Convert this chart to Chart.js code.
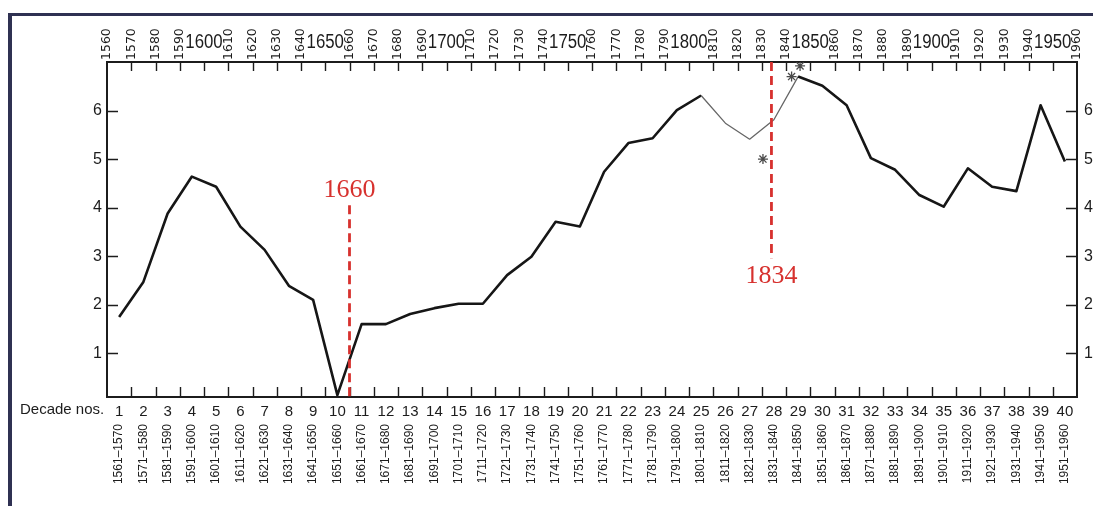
<!DOCTYPE html>
<html>
<head>
<meta charset="utf-8">
<script src="https://cdn.jsdelivr.net/npm/chart.js@4/dist/chart.umd.min.js"></script>
<style>
  html, body { margin: 0; padding: 0; background: #ffffff; }
  #wrap { width: 1093px; height: 506px; position: relative; }
</style>
</head>
<body>
<div id="wrap"><canvas id="chart" width="1093" height="506"></canvas></div>
<script>
// Decade numbers shown under the plot
const decadeNos = ['1','2','3','4','5','6','7','8','9','10','11','12','13','14','15','16','17','18','19','20',
                   '21','22','23','24','25','26','27','28','29','30','31','32','33','34','35','36','37','38','39','40'];

// Year span of each decade
const decadeRanges = ['1561–1570','1571–1580','1581–1590','1591–1600','1601–1610','1611–1620','1621–1630','1631–1640',
                      '1641–1650','1651–1660','1661–1670','1671–1680','1681–1690','1691–1700','1701–1710','1711–1720',
                      '1721–1730','1731–1740','1741–1750','1751–1760','1761–1770','1771–1780','1781–1790','1791–1800',
                      '1801–1810','1811–1820','1821–1830','1831–1840','1841–1850','1851–1860','1861–1870','1871–1880',
                      '1881–1890','1891–1900','1901–1910','1911–1920','1921–1930','1931–1940','1941–1950','1951–1960'];

// Value for each decade
const values = [1.75, 2.47, 3.88, 4.64, 4.43, 3.61, 3.13, 2.39, 2.10, 0.14,
                1.60, 1.60, 1.81, 1.93, 2.02, 2.02, 2.61, 2.99, 3.71, 3.61,
                4.74, 5.33, 5.43, 6.01, 6.31, 5.74, 5.41, 5.81, 6.70, 6.51,
                6.11, 5.02, 4.78, 4.26, 4.02, 4.81, 4.43, 4.34, 6.11, 4.95];

// Year scale along the top edge
const yearTicks = [1560,1570,1580,1590,1600,1610,1620,1630,1640,1650,1660,1670,1680,1690,1700,1710,1720,1730,1740,1750,
                   1760,1770,1780,1790,1800,1810,1820,1830,1840,1850,1860,1870,1880,1890,1900,1910,1920,1930,1940,1950,1960];

// Value ticks on both sides
const valueTicks = [1, 2, 3, 4, 5, 6];

// Marked years
const markerYears = [1660, 1834];

// Asterisk annotations (year, value)
const asteriskYears = [1830.5, 1842.3, 1845.8];
const asteriskValues = [5.00, 6.70, 6.92];

const SANS = '"Liberation Sans", Arial, sans-serif';
const WIDE = '"DejaVu Sans", sans-serif';
const SERIF = '"Liberation Serif", "Times New Roman", serif';
const INK = '#1c1c1c';
const RED = '#d7312e';

// Segments from decade 25 to decade 29 are drawn as a thin grey line
const thinSeg = ctx => ctx.p0DataIndex >= 24 && ctx.p0DataIndex < 28;

const decorations = {
  id: 'decorations',
  afterDatasetsDraw(chart) {
    const { ctx, chartArea: area } = chart;
    const ys = chart.scales.y;
    const yrs = chart.scales.years;
    const xs = chart.scales.x;
    ctx.save();

    // frame
    ctx.strokeStyle = '#2f3152';
    ctx.lineWidth = 3;
    ctx.beginPath(); ctx.moveTo(8, 14.5); ctx.lineTo(1093, 14.5); ctx.stroke();
    ctx.lineWidth = 4;
    ctx.beginPath(); ctx.moveTo(10, 13); ctx.lineTo(10, 506); ctx.stroke();

    // inward tick marks
    ctx.strokeStyle = INK;
    ctx.lineWidth = 1.4;
    ctx.beginPath();
    yearTicks.forEach(yr => {
      if (yr === yearTicks[0] || yr === yearTicks[yearTicks.length - 1]) return;
      const px = Math.round(yrs.getPixelForValue(yr)) + 0.5;
      ctx.moveTo(px, area.top); ctx.lineTo(px, area.top + 9);
      ctx.moveTo(px, area.bottom); ctx.lineTo(px, area.bottom - 10);
    });
    valueTicks.forEach(v => {
      const py = Math.round(ys.getPixelForValue(v)) + 0.5;
      ctx.moveTo(area.left, py); ctx.lineTo(area.left + 11, py);
      ctx.moveTo(area.right, py); ctx.lineTo(area.right - 11, py);
    });
    ctx.stroke();

    // year labels along the top: half-centuries upright and condensed, other decades turned
    ctx.fillStyle = INK;
    yearTicks.forEach(yr => {
      const px = yrs.getPixelForValue(yr);
      if (yr % 50 === 0) {
        ctx.save();
        ctx.translate(px, 48);
        ctx.scale(0.84, 1);
        ctx.font = '20px ' + SANS;
        ctx.textAlign = 'center';
        ctx.textBaseline = 'alphabetic';
        ctx.fillText(String(yr), 0, 0);
        ctx.restore();
      } else {
        ctx.save();
        ctx.translate(px, area.top - 2);
        ctx.rotate(-Math.PI / 2);
        ctx.font = '12.5px ' + WIDE;
        ctx.textAlign = 'left';
        ctx.textBaseline = 'middle';
        ctx.fillText(String(yr), 0, 0);
        ctx.restore();
      }
    });

    // row caption for the decade numbers
    ctx.font = '15px ' + SANS;
    ctx.textAlign = 'left';
    ctx.textBaseline = 'middle';
    ctx.fillText('Decade nos.', 20, xs.top + 13);

    // marked years: red dashed verticals with labels
    const markerSpans = [
      { from: 4.05, to: ys.min, labelY: 197 },
      { from: ys.max, to: 2.96, labelY: 283 }
    ];
    markerYears.forEach((yr, i) => {
      const s = markerSpans[i];
      const px = yrs.getPixelForValue(yr);
      ctx.strokeStyle = RED;
      ctx.lineWidth = 2.8;
      ctx.setLineDash([9, 5]);
      ctx.beginPath();
      ctx.moveTo(px, ys.getPixelForValue(s.from));
      ctx.lineTo(px, ys.getPixelForValue(s.to));
      ctx.stroke();
      ctx.setLineDash([]);
      ctx.fillStyle = RED;
      ctx.font = '26px ' + SERIF;
      ctx.textAlign = 'center';
      ctx.textBaseline = 'alphabetic';
      ctx.fillText(String(yr), px, s.labelY);
    });

    ctx.restore();
  }
};

new Chart(document.getElementById('chart'), {
  type: 'line',
  data: {
    labels: decadeNos,
    datasets: [
      {
        data: values,
        xAxisID: 'x',
        yAxisID: 'y',
        borderColor: '#161616',
        borderWidth: 2.6,
        borderJoinStyle: 'round',
        pointRadius: 0,
        tension: 0,
        segment: {
          borderColor: c => thinSeg(c) ? '#666666' : undefined,
          borderWidth: c => thinSeg(c) ? 1.3 : undefined
        }
      },
      {
        type: 'scatter',
        data: asteriskYears.map((yr, i) => ({ x: yr, y: asteriskValues[i] })),
        xAxisID: 'years',
        yAxisID: 'y',
        pointStyle: 'star',
        pointRadius: 5,
        borderColor: '#4a4a4a',
        borderWidth: 1.3,
        backgroundColor: 'transparent'
      }
    ]
  },
  options: {
    responsive: false,
    animation: false,
    events: [],
    layout: { padding: { left: 12, top: 0, right: 0, bottom: 0 } },
    plugins: { legend: { display: false }, tooltip: { enabled: false } },
    scales: {
      x: {
        type: 'category',
        position: 'bottom',
        weight: 0,
        offset: true,
        grid: { display: false, drawTicks: false },
        border: { display: true, color: INK, width: 2 },
        ticks: { autoSkip: false, maxRotation: 0, padding: 6, color: INK, font: { family: SANS, size: 15 } },
        afterFit: s => { s.height = 26; }
      },
      ranges: {
        type: 'category',
        labels: decadeRanges,
        position: 'bottom',
        weight: 1,
        offset: true,
        grid: { display: false, drawTicks: false },
        border: { display: false },
        ticks: { autoSkip: false, minRotation: 90, maxRotation: 90, padding: 1, color: INK, font: { family: SANS, size: 12 } },
        afterFit: s => { s.height = 83; }
      },
      years: {
        type: 'linear',
        position: 'top',
        min: yearTicks[0],
        max: yearTicks[yearTicks.length - 1],
        grid: { display: false, drawTicks: false },
        border: { display: true, color: INK, width: 2 },
        ticks: { display: false },
        afterFit: s => { s.height = 62; }
      },
      y: {
        type: 'linear',
        position: 'left',
        min: 0.1,
        max: 7.0,
        grid: { display: false, drawTicks: false },
        border: { display: true, color: INK, width: 2 },
        ticks: { padding: 5, color: INK, font: { family: SANS, size: 16 } },
        afterBuildTicks: s => { s.ticks = valueTicks.map(v => ({ value: v })); },
        afterFit: s => { s.width = 95; }
      },
      yRight: {
        type: 'linear',
        position: 'right',
        min: 0.1,
        max: 7.0,
        grid: { display: false, drawTicks: false },
        border: { display: true, color: INK, width: 2 },
        ticks: { padding: 7, color: INK, font: { family: SANS, size: 16 } },
        afterBuildTicks: s => { s.ticks = valueTicks.map(v => ({ value: v })); },
        afterFit: s => { s.width = 16; }
      }
    }
  },
  plugins: [decorations]
});
</script>
</body>
</html>
